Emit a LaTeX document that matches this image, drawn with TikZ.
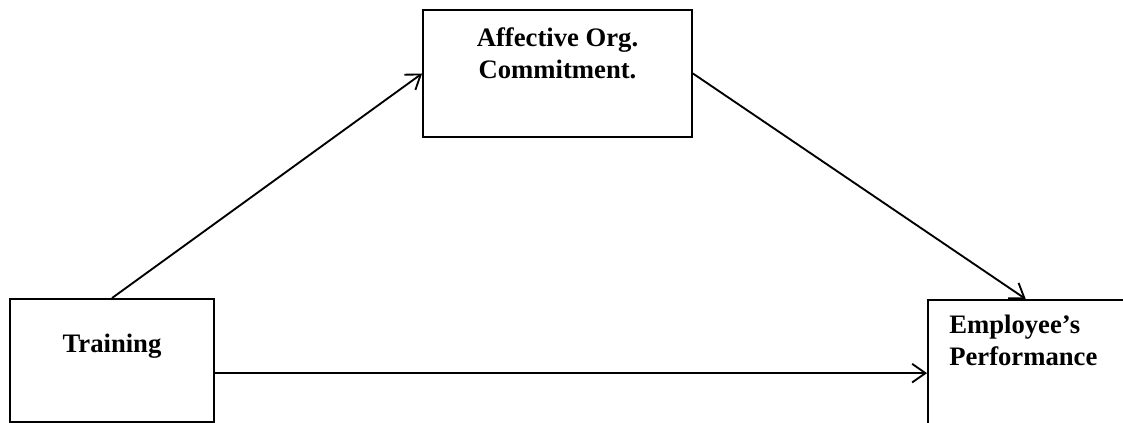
\documentclass[tikz,border=0pt]{standalone}
\usepackage{fontspec}
\setmainfont{Liberation Serif}
\usetikzlibrary{arrows.meta}
\begin{document}
\begin{tikzpicture}[x=0.75pt, y=-0.75pt,
  box/.style={draw, line width=1.4pt, inner sep=0pt},
  lbl/.style={font=\fontsize{20}{24}\selectfont\bfseries, inner sep=0pt},
  link/.style={-{Straight Barb[length=10pt, width=14pt, line width=1.4pt]}, line width=1.4pt}]
\useasboundingbox (0,0) rectangle (1123,423);
\clip (0,0) rectangle (1123,423);
\node[box, minimum width=153pt, minimum height=92.25pt] (train) at (112,360.5) {};
\node[box, minimum width=201.75pt, minimum height=95.25pt] (affect) at (557.5,73.5) {};
\node[box, minimum width=165pt, minimum height=105pt] (perf) at (1038,370) {};
\node[lbl, anchor=north] (trainlbl) at (112,334) {Training};
\node[lbl, anchor=north, align=center] (affectlbl) at (557.5,27) {Affective Org.\\Commitment.};
\node[lbl, anchor=north west, align=left] (perflbl) at (949,315) {Employee’s\\Performance};
\draw[link] (train.north) -- (affect.west);
\draw[link] (affect.east) -- ([xshift=74pt]perf.north west);
\draw[link] (train.-7) -- (train.-7 -| perf.west);
\end{tikzpicture}
\end{document}
